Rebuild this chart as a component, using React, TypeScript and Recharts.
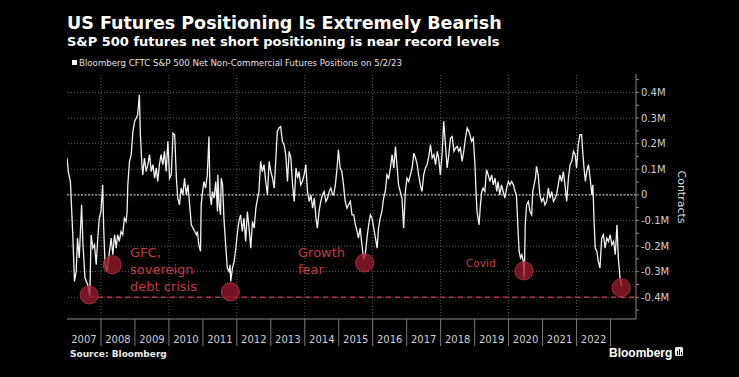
import { LineChart, Line, XAxis, YAxis, ReferenceLine, ReferenceDot } from 'recharts';

// decimal year of each reading
const dates = [
  2007.00, 2007.04, 2007.10, 2007.17, 2007.22, 2007.27, 2007.31, 2007.36, 2007.43, 2007.47,
  2007.53, 2007.61, 2007.67, 2007.71, 2007.76, 2007.81, 2007.86, 2007.90, 2007.95, 2008.00,
  2008.05, 2008.08, 2008.12, 2008.18, 2008.25, 2008.30, 2008.35, 2008.40, 2008.45, 2008.49,
  2008.54, 2008.59, 2008.64, 2008.69, 2008.74, 2008.77, 2008.79, 2008.84, 2008.89, 2008.94,
  2008.99, 2009.04, 2009.08, 2009.13, 2009.16, 2009.20, 2009.23, 2009.28, 2009.33, 2009.38,
  2009.43, 2009.48, 2009.53, 2009.58, 2009.63, 2009.67, 2009.72, 2009.77, 2009.82, 2009.87,
  2009.92, 2009.97, 2010.02, 2010.07, 2010.12, 2010.17, 2010.22, 2010.26, 2010.31, 2010.36,
  2010.41, 2010.46, 2010.51, 2010.56, 2010.61, 2010.66, 2010.71, 2010.76, 2010.81, 2010.84,
  2010.88, 2010.93, 2010.95, 2010.98, 2011.03, 2011.08, 2011.13, 2011.18, 2011.21, 2011.25,
  2011.28, 2011.33, 2011.38, 2011.43, 2011.44, 2011.48, 2011.52, 2011.54, 2011.58, 2011.62,
  2011.67, 2011.72, 2011.77, 2011.80, 2011.82, 2011.87, 2011.92, 2011.97, 2012.01, 2012.06,
  2012.11, 2012.16, 2012.21, 2012.26, 2012.31, 2012.36, 2012.41, 2012.46, 2012.51, 2012.56,
  2012.61, 2012.65, 2012.70, 2012.75, 2012.80, 2012.85, 2012.90, 2012.95, 2013.00, 2013.05,
  2013.10, 2013.15, 2013.19, 2013.24, 2013.29, 2013.34, 2013.39, 2013.44, 2013.49, 2013.54,
  2013.59, 2013.64, 2013.69, 2013.74, 2013.79, 2013.83, 2013.88, 2013.93, 2013.98, 2014.03,
  2014.08, 2014.13, 2014.18, 2014.23, 2014.28, 2014.33, 2014.37, 2014.42, 2014.47, 2014.52,
  2014.57, 2014.62, 2014.67, 2014.72, 2014.77, 2014.82, 2014.85, 2014.90, 2014.95, 2014.99,
  2015.04, 2015.09, 2015.14, 2015.19, 2015.24, 2015.29, 2015.34, 2015.39, 2015.44, 2015.49,
  2015.54, 2015.58, 2015.63, 2015.68, 2015.73, 2015.78, 2015.83, 2015.88, 2015.93, 2015.98,
  2016.03, 2016.08, 2016.13, 2016.17, 2016.22, 2016.27, 2016.32, 2016.37, 2016.42, 2016.47,
  2016.52, 2016.57, 2016.62, 2016.67, 2016.72, 2016.76, 2016.81, 2016.86, 2016.91, 2016.96,
  2017.01, 2017.06, 2017.11, 2017.16, 2017.21, 2017.26, 2017.31, 2017.35, 2017.40, 2017.45,
  2017.50, 2017.55, 2017.60, 2017.65, 2017.70, 2017.75, 2017.80, 2017.85, 2017.90, 2017.94,
  2017.99, 2018.04, 2018.09, 2018.14, 2018.19, 2018.24, 2018.29, 2018.34, 2018.39, 2018.44,
  2018.49, 2018.53, 2018.58, 2018.63, 2018.68, 2018.73, 2018.78, 2018.83, 2018.86, 2018.91,
  2018.96, 2019.01, 2019.04, 2019.07, 2019.13, 2019.17, 2019.21, 2019.25, 2019.30, 2019.35,
  2019.40, 2019.45, 2019.50, 2019.55, 2019.60, 2019.65, 2019.69, 2019.74, 2019.79, 2019.84,
  2019.89, 2019.94, 2019.99, 2020.04, 2020.09, 2020.14, 2020.19, 2020.23, 2020.28, 2020.31,
  2020.35, 2020.39, 2020.43, 2020.46, 2020.49, 2020.53, 2020.58, 2020.63, 2020.68, 2020.71,
  2020.75, 2020.79, 2020.82, 2020.87, 2020.92, 2020.97, 2021.02, 2021.07, 2021.12, 2021.17,
  2021.22, 2021.27, 2021.32, 2021.37, 2021.41, 2021.46, 2021.51, 2021.56, 2021.61, 2021.66,
  2021.71, 2021.76, 2021.81, 2021.86, 2021.91, 2021.96, 2022.00, 2022.05, 2022.10, 2022.15,
  2022.18, 2022.22, 2022.26, 2022.30, 2022.35, 2022.40, 2022.45, 2022.48, 2022.52, 2022.55,
  2022.60, 2022.64, 2022.69, 2022.74, 2022.79, 2022.84, 2022.89, 2022.94, 2022.99, 2023.04,
  2023.09, 2023.14, 2023.19, 2023.23, 2023.28, 2023.33,
];

// net non-commercial positions, thousands of contracts
const positions = [
  145, 91, 52, -156, -338, -299, -169, -247, -39, -195,
  -325, -351, -397, -156, -208, -195, -273, -182, -91, -65,
  39, -130, -273, -299, -221, -169, -234, -156, -208, -156,
  -182, -143, -156, -91, -104, -65, 39, 131, 157, 248,
  287, 300, 313, 391, 235, 131, 78, 144, 91, 118,
  157, 91, 118, 65, 105, 52, 118, 157, 118, 170,
  91, 209, 65, 78, 241, 235, 65, -13, -39, 26,
  0, 65, 0, 39, -39, -117, -130, -143, -156, -143,
  -195, -221, -39, 0, 52, 26, 78, 228, 0, -39,
  13, -13, 52, -65, 78, -39, -78, 65, 39, -91,
  -195, -286, -299, -273, -338, -286, -260, -208, -156, -104,
  -78, -143, -91, -182, -65, -130, -208, -104, -130, -52,
  -13, 13, 131, 91, 118, 52, 0, 131, 91, 65,
  26, 144, 248, 261, 267, 209, 196, 157, 52, 170,
  144, 39, -26, 105, 65, 91, 39, 52, 78, 118,
  13, -26, 0, -52, -13, -91, -130, -65, -26, 0,
  13, -26, -13, 13, 26, 0, 0, 39, 105, 176,
  105, 91, 39, -26, -52, -39, -26, -78, -78, -117,
  -143, -169, -130, -195, -247, -234, -169, -117, -78, -91,
  -130, -169, -208, -130, -91, -65, -13, 13, 78, 65,
  105, 157, 105, 189, 105, 39, 13, -13, -130, 13,
  65, 52, 78, 105, 163, 144, 118, 78, 39, 13,
  78, 105, 118, 150, 196, 144, 157, 118, 170, 144,
  78, 157, 287, 196, 105, 157, 222, 228, 170, 183,
  189, 170, 183, 131, 170, 222, 261, 248, 235, 209,
  222, 118, 13, -65, -117, -39, 13, 26, 13, 98,
  78, 52, 78, 39, 65, 13, 52, 0, 39, 13,
  -13, 26, 52, 39, 52, 39, 13, 0, -143, -221,
  -247, -234, -260, -325, -117, -39, -26, -65, -78, 13,
  39, 65, 111, 78, 0, -26, -13, -39, -26, 26,
  -13, 13, -26, -13, 0, 39, 78, 52, 91, 39,
  -26, 65, 118, 131, 170, 157, 105, 196, 235, 235,
  170, 105, 52, 91, 118, 65, 0, 39, -117, -208,
  -221, -260, -286, -169, -156, -208, -169, -182, -156, -195,
  -182, -234, -117, -247, -325, -358,
];

const yearLabels = ['2007', '2008', '2009', '2010', '2011', '2012', '2013', '2014', '2015', '2016', '2017', '2018', '2019', '2020', '2021', '2022'];
const yTicks = [-450, -400, -350, -300, -250, -200, -150, -100, -50, 0, 50, 100, 150, 200, 250, 300, 350, 400, 450];
const gridValues = [-400, -300, -200, -100, 100, 200, 300, 400];
const gridYears = [2008, 2010, 2012, 2014, 2016, 2018, 2020, 2022];

// circled lows
const lowDates = [2007.65, 2008.33, 2011.81, 2015.76, 2020.45, 2023.31];
const lowValues = [-391, -273, -379, -266, -297, -363];

const data = dates.map((t, i) => ({ t, v: positions[i] }));

const X_MIN = 2007;
const X_MAX = 2023.75;
const PLOT_LEFT = 67;
const PLOT_RIGHT = 636;
const YEAR_PX = (PLOT_RIGHT - PLOT_LEFT) / (X_MAX - X_MIN);

const RED = '#c0394a';

function YearTick(props: any) {
  const { x, y, payload } = props;
  const label = String(Math.floor(payload.value));
  return (
    <g>
      <text x={x} y={y + 24} textAnchor="middle" fill="#cfcfcf" fontSize={10} fontFamily="DejaVu Sans">
        {label}
      </text>
      <line x1={x + YEAR_PX / 2} x2={x + YEAR_PX / 2} y1={y} y2={y + 27} stroke="#7a7a7a" strokeWidth={1} />
    </g>
  );
}

function fmtM(v: number) {
  if (v % 100 !== 0) return '';
  if (v === 0) return '0';
  return `${v / 1000}M`;
}

export default function App() {
  return (
    <div style={{ position: 'absolute', left: 0, top: 0, width: 739, height: 377, background: '#000', overflow: 'hidden' }}>
      <LineChart width={739} height={377} data={data} margin={{ top: 74, right: 43, bottom: 28, left: 67 }}>
        <XAxis
          dataKey="t"
          type="number"
          domain={[X_MIN, X_MAX]}
          allowDataOverflow
          ticks={yearLabels.map((y) => Number(y) + 0.5)}
          interval={0}
          tick={<YearTick />}
          tickLine={false}
          tickSize={0}
          tickMargin={0}
          height={30}
          axisLine={{ stroke: '#8a8a8a', strokeWidth: 1.2 }}
        />
        <YAxis
          orientation="right"
          type="number"
          domain={[-485, 472]}
          allowDataOverflow
          ticks={yTicks}
          interval={0}
          tickFormatter={fmtM}
          width={60}
          tickSize={3}
          tickMargin={2}
          axisLine={{ stroke: '#888' }}
          tickLine={{ stroke: '#888' }}
          tick={{ fill: '#cfcfcf', fontSize: 10, fontFamily: 'DejaVu Sans' }}
        />
        {gridValues.map((g) => (
          <ReferenceLine key={`h${g}`} y={g} stroke="#5a5a5a" strokeDasharray="1 2" />
        ))}
        {gridYears.map((g) => (
          <ReferenceLine key={`v${g}`} x={g} stroke="#5a5a5a" strokeDasharray="1 2" />
        ))}
        <ReferenceLine y={0} stroke="#bdbdbd" strokeDasharray="2 1.5" strokeWidth={1.2} />
        <ReferenceLine
          segment={[{ x: lowDates[0], y: -400 }, { x: X_MAX, y: -400 }]}
          stroke="#b8344c"
          strokeDasharray="5 4"
          strokeWidth={1.3}
        />
        <Line
          dataKey="v"
          type="linear"
          stroke="#f2f2f2"
          strokeWidth={1.3}
          dot={false}
          isAnimationActive={false}
        />
        {lowDates.map((d, i) => (
          <ReferenceDot key={`c${i}`} x={d} y={lowValues[i]} r={9} fill="#96192c" fillOpacity={0.78} stroke="#ad2b3e" strokeWidth={1} />
        ))}
      </LineChart>

      <svg width={739} height={377} style={{ position: 'absolute', left: 0, top: 0, pointerEvents: 'none' }}>
        <text x={67} y={29} fill="#fff" fontSize={17.5} fontWeight="bold" fontFamily="DejaVu Sans">
          US Futures Positioning Is Extremely Bearish
        </text>
        <text x={67} y={46} fill="#fff" fontSize={13} fontWeight="bold" fontFamily="DejaVu Sans">
          S&amp;P 500 futures net short positioning is near record levels
        </text>
        <rect x={72} y={60} width={5} height={5} fill="#fff" />
        <text x={79} y={66} fill="#e0e0e0" fontSize={9.5} fontFamily="DejaVu Sans" textLength={323} lengthAdjust="spacingAndGlyphs">
          Bloomberg CFTC S&amp;P 500 Net Non-Commercial Futures Positions on 5/2/23
        </text>

        <text x={678} y={197} fill="#dcdcdc" fontSize={11} fontFamily="DejaVu Sans" textAnchor="middle" transform="rotate(90 678 197)">
          Contracts
        </text>

        <g fill={RED} fontFamily="DejaVu Sans" fontSize={13}>
          <text x={130} y={257}>GFC,</text>
          <text x={130} y={274}>sovereign</text>
          <text x={130} y={291}>debt crisis</text>
          <text x={298} y={257}>Growth</text>
          <text x={298} y={274}>fear</text>
        </g>
        <text x={466} y={267} fill={RED} fontFamily="DejaVu Sans" fontSize={10.5}>Covid</text>

        <text x={70} y={357} fill="#e8e8e8" fontSize={9} fontWeight="bold" fontFamily="DejaVu Sans">
          Source: Bloomberg
        </text>
        <text x={609} y={357} fill="#fff" fontSize={12} fontWeight="bold" fontFamily="Liberation Sans">
          Bloomberg
        </text>
        <g>
          <rect x={675} y={347} width={8} height={9} rx={1.5} fill="#e8e8e8" />
          <rect x={677} y={351} width={1} height={4} fill="#000" />
          <rect x={679} y={349} width={1} height={6} fill="#000" />
          <rect x={681} y={352} width={1} height={3} fill="#000" />
        </g>
      </svg>
    </div>
  );
}
